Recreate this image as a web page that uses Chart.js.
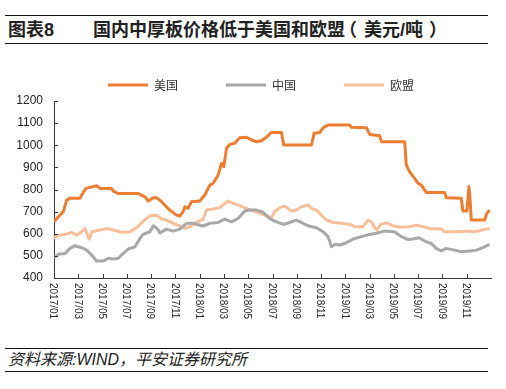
<!DOCTYPE html>
<html>
<head>
<meta charset="utf-8">
<script src="https://cdn.jsdelivr.net/npm/chart.js@4/dist/chart.umd.min.js"></script>
<style>
  body { margin: 0; background: #fff; }
  #page { position: relative; width: 506px; height: 389px; overflow: hidden; font-family: "Liberation Sans", "Noto Sans CJK SC", sans-serif; color: #222; }
  .rule { position: absolute; left: 5px; width: 483px; height: 1px; background: #111; }
  .title { position: absolute; top: 19px; font-size: 18px; font-weight: bold; line-height: 22px; white-space: nowrap; }
  #source { position: absolute; left: 8px; top: 350px; font-size: 16px; font-style: italic; line-height: 20px; white-space: nowrap; }
  #chart { position: absolute; left: 0; top: 31px; }
</style>
</head>
<body>
<div id="page">
  <div class="rule" style="top:15px"></div>
  <div class="title" style="left:8px">图表8</div>
  <div class="title" style="left:93px">国内中厚板价格低于美国和欧盟<span style="margin:0 7px 0 -6px">（</span>美元/吨<span style="margin-left:6px">）</span></div>
  <div class="rule" style="top:43px"></div>
  <canvas id="chart" width="506" height="299"></canvas>
  <div class="rule" style="top:348px"></div>
  <div id="source">资料来源:WIND，平安证券研究所</div>
  <div class="rule" style="top:371px"></div>
</div>
<script>
// x positions are months counted from 2017/01
const tickLabels = ['2017/01', '2017/03', '2017/05', '2017/07', '2017/09', '2017/11',
    '2018/01', '2018/03', '2018/05', '2018/07', '2018/09', '2018/11',
    '2019/01', '2019/03', '2019/05', '2019/07', '2019/09', '2019/11'];
const yTicks = [400, 500, 600, 700, 800, 900, 1000, 1100, 1200];

const usMonth = [0, 0.36, 0.77, 1.04, 1.32, 2.14, 2.28, 2.63, 3.51, 3.79, 4.75, 4.88, 5.3, 6.94, 7.49,
    7.76, 8.18, 8.45, 8.86, 9.0, 9.54, 10.09, 10.37, 10.64, 10.78, 11.05, 11.33, 12.01, 12.42, 12.84,
    13.11, 13.52, 13.8, 13.99, 14.21, 14.48, 14.89, 15.3, 15.85, 16.26, 16.68, 17.09, 17.5, 17.91, 18.74,
    18.93, 21.21, 21.43, 21.9, 22.17, 22.58, 24.36, 24.5, 25.74, 26.01, 26.83, 26.97, 28.89, 29.02, 29.3,
    29.71, 29.99, 30.26, 30.67, 32.18, 32.32, 33.55, 33.69, 34.02, 34.18, 34.29, 34.37, 35.47, 35.66, 35.88];
const usPrice = [654, 677, 700, 752, 760, 760, 775, 805, 817, 805, 805, 793, 782, 782, 767,
    748, 763, 763, 745, 737, 707, 684, 680, 700, 722, 715, 745, 748, 775, 820,
    828, 865, 918, 903, 986, 1004, 1009, 1034, 1036, 1024, 1016, 1020, 1036, 1058, 1058,
    1001, 1001, 1054, 1058, 1079, 1091, 1091, 1081, 1079, 1049, 1043, 1016, 1016, 911, 880,
    850, 828, 820, 787, 787, 763, 760, 703, 703, 813, 745, 662, 662, 692, 707];

const cnMonth = [0, 0.36, 0.91, 1.32, 1.73, 2.28, 2.69, 3.1, 3.51, 4.06, 4.47, 4.88, 5.3, 5.57, 6.12,
    6.67, 7.08, 7.35, 7.9, 8.18, 8.5, 8.73, 9.27, 9.82, 10.37, 10.91, 11.46, 12.29, 12.84, 13.52,
    14.07, 14.62, 15.17, 15.72, 16.13, 16.68, 17.23, 17.78, 18.19, 18.88, 19.43, 19.97, 20.52, 20.93, 21.62,
    22.17, 22.58, 22.86, 23.13, 23.54, 23.95, 24.64, 25.32, 26.01, 26.56, 27.24, 28.06, 28.61, 29.16, 29.57,
    30.07, 30.53, 31.08, 31.49, 31.9, 32.32, 33.0, 33.55, 34.24, 34.79, 35.33, 35.88];
const cnPrice = [492, 507, 511, 534, 546, 537, 526, 504, 477, 477, 489, 486, 489, 504, 531,
    541, 579, 597, 609, 636, 624, 604, 621, 612, 621, 647, 647, 635, 647, 651,
    666, 654, 669, 703, 707, 707, 697, 668, 657, 642, 651, 662, 647, 636, 627,
    609, 587, 541, 552, 549, 556, 576, 587, 597, 602, 612, 609, 587, 574, 576,
    582, 567, 556, 534, 523, 534, 526, 519, 522, 526, 537, 552];

const euMonth = [0, 0.36, 0.91, 1.45, 1.87, 2.28, 2.55, 2.74, 2.91, 3.1, 3.79, 4.34, 4.88, 5.57, 6.26,
    6.8, 7.35, 7.9, 8.45, 8.86, 9.27, 9.82, 10.37, 10.78, 11.19, 11.74, 12.29, 12.56, 13.11, 13.66,
    14.07, 14.34, 14.76, 15.3, 15.85, 16.4, 16.95, 17.5, 17.91, 18.19, 18.6, 19.01, 19.56, 19.97, 20.39,
    20.93, 21.21, 21.62, 22.03, 22.44, 22.99, 23.68, 24.36, 24.78, 25.46, 25.87, 26.15, 26.42, 26.61, 26.89,
    27.24, 27.51, 27.93, 28.48, 29.3, 29.85, 30.4, 30.95, 31.9, 32.18, 33.42, 33.96, 34.51, 35.06, 35.61, 35.88];
const euPrice = [579, 594, 597, 606, 594, 609, 624, 597, 576, 609, 617, 624, 617, 606, 609,
    627, 657, 681, 684, 666, 662, 647, 635, 624, 632, 651, 666, 707, 712, 718,
    737, 748, 737, 727, 715, 703, 692, 681, 672, 700, 718, 725, 703, 707, 722,
    730, 715, 707, 684, 662, 651, 647, 642, 632, 632, 662, 654, 627, 617, 642,
    647, 647, 636, 629, 632, 639, 632, 624, 621, 609, 609, 612, 609, 614, 621, 624];

const toPoints = (xs, ys) => xs.map((x, i) => ({ x, y: ys[i] }));

const axisColor = '#3a3a3a';
const textColor = '#262626';

// inward tick marks, y labels and clockwise-rotated x labels
const axisDecor = {
    id: 'axisDecor',
    afterDraw(chart) {
        const { ctx, chartArea, scales: { x, y } } = chart;
        ctx.save();
        ctx.strokeStyle = axisColor;
        ctx.lineWidth = 1;
        ctx.beginPath();
        yTicks.forEach(v => {
            const py = Math.round(y.getPixelForValue(v)) + 0.5;
            ctx.moveTo(chartArea.left, py);
            ctx.lineTo(chartArea.left + 4, py);
        });
        tickLabels.forEach((_, i) => {
            if (i === 0) return;
            const px = Math.round(x.getPixelForValue(i * 2)) + 0.5;
            ctx.moveTo(px, chartArea.bottom);
            ctx.lineTo(px, chartArea.bottom - 4);
        });
        ctx.stroke();

        ctx.fillStyle = textColor;
        ctx.font = '12px "Liberation Sans", sans-serif';
        ctx.textAlign = 'right';
        ctx.textBaseline = 'middle';
        yTicks.forEach(v => {
            ctx.fillText(String(v), chartArea.left - 11, y.getPixelForValue(v));
        });

        ctx.font = '10px "Liberation Sans", sans-serif';
        ctx.textAlign = 'left';
        tickLabels.forEach((label, i) => {
            const px = x.getPixelForValue(i * 2);
            ctx.save();
            ctx.translate(px - 1, chartArea.bottom + 5);
            ctx.rotate(Math.PI / 2);
            ctx.fillText(label, 0, 0);
            ctx.restore();
        });
        ctx.restore();
    }
};

new Chart(document.getElementById('chart'), {
    type: 'line',
    data: {
        datasets: [
            { label: '美国', data: toPoints(usMonth, usPrice), borderColor: '#ED7D31', backgroundColor: '#ED7D31' },
            { label: '中国', data: toPoints(cnMonth, cnPrice), borderColor: '#A8A8A8', backgroundColor: '#A8A8A8' },
            { label: '欧盟', data: toPoints(euMonth, euPrice), borderColor: '#F8BF98', backgroundColor: '#F8BF98' }
        ]
    },
    options: {
        responsive: false,
        animation: false,
        devicePixelRatio: 1,
        layout: { padding: { left: 31, right: 15, top: 0, bottom: 0 } },
        elements: {
            point: { radius: 0 },
            line: { borderWidth: 3, tension: 0, borderJoinStyle: 'round' }
        },
        scales: {
            x: {
                type: 'linear',
                min: 0,
                max: 36,
                grid: { display: false },
                border: { color: axisColor, width: 1 },
                ticks: { display: false },
                afterFit(scale) { scale.height = 52; }
            },
            y: {
                min: yTicks[0],
                max: yTicks[yTicks.length - 1],
                grid: { display: false, drawTicks: false },
                border: { color: axisColor, width: 1 },
                ticks: { display: false, stepSize: 100 },
                afterFit(scale) { scale.width = 23; }
            }
        },
        plugins: {
            tooltip: { enabled: false },
            legend: {
                position: 'top',
                labels: {
                    boxWidth: 40,
                    boxHeight: 3,
                    padding: 48,
                    color: '#333',
                    font: { family: '"Noto Sans CJK SC", sans-serif', size: 12 },
                    generateLabels(chart) {
                        return Chart.defaults.plugins.legend.labels.generateLabels(chart)
                            .map(item => ({ ...item, lineWidth: 0, fillStyle: item.strokeStyle }));
                    }
                }
            }
        }
    },
    plugins: [axisDecor]
});
</script>
</body>
</html>
